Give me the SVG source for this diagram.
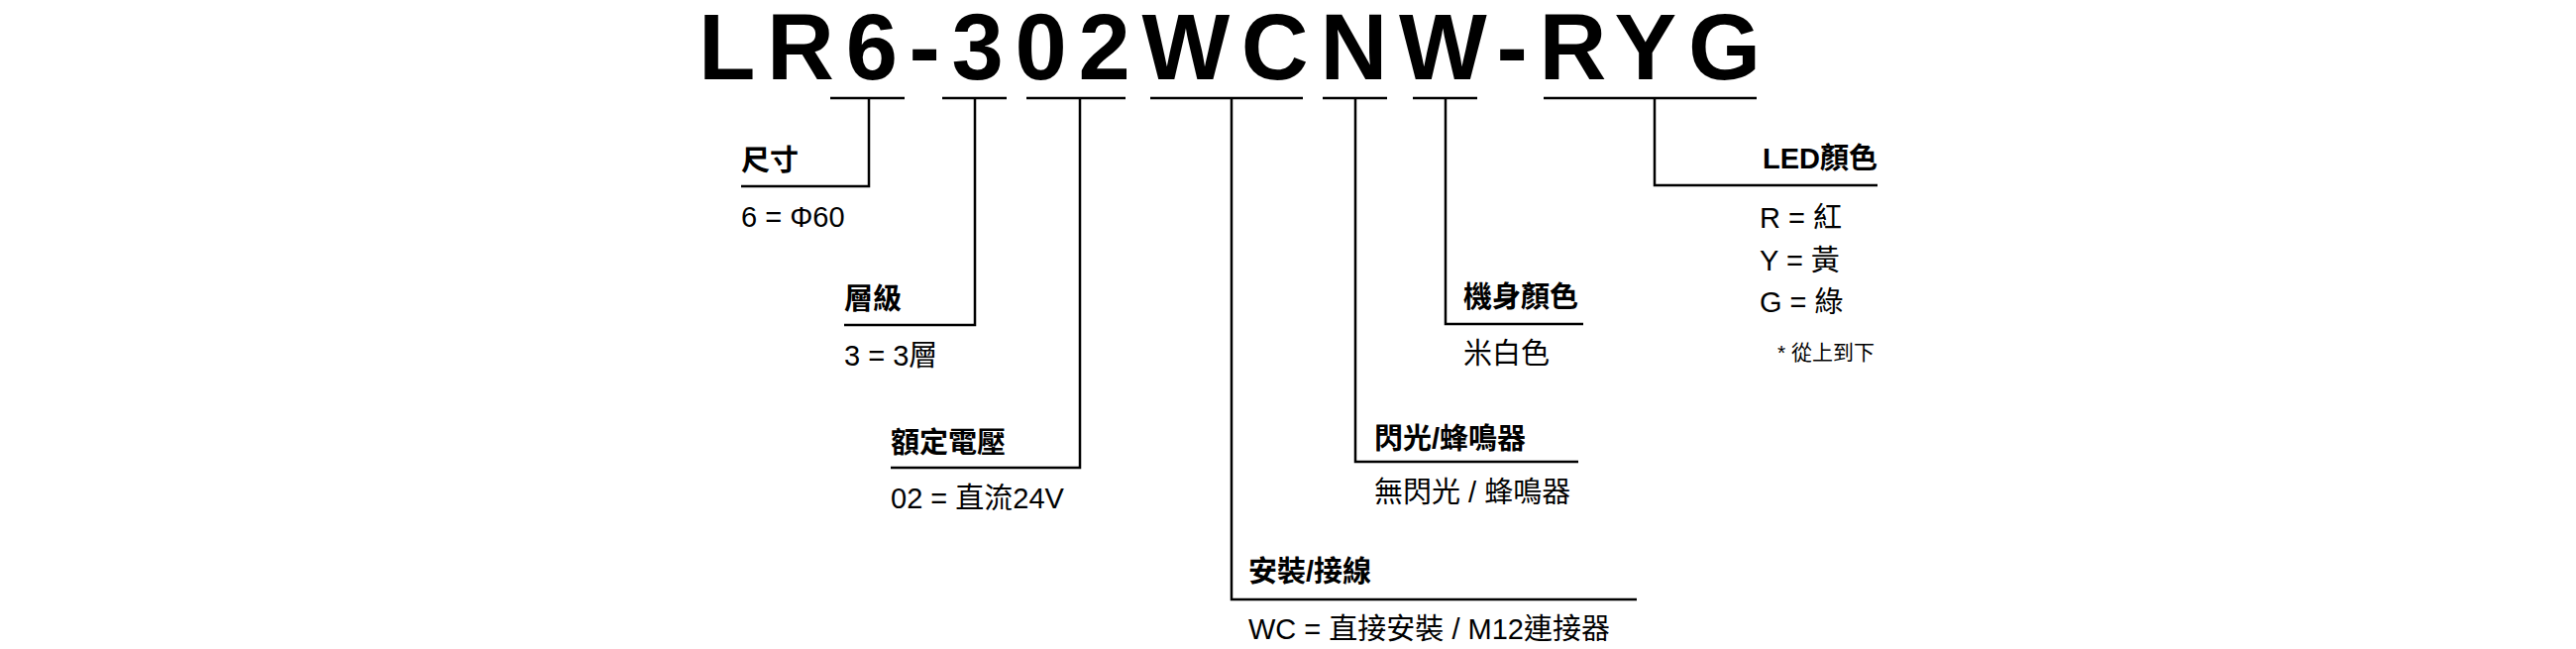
<svg xmlns="http://www.w3.org/2000/svg" width="2600" height="655" viewBox="0 0 2600 655">
<style>
.t{font-family:"Liberation Sans","Noto Sans CJK TC",sans-serif;fill:#000}
.h{font-size:29px;font-weight:bold}
.v{font-size:29px}
.s{font-size:21px}
.ln{stroke:#000;stroke-width:2.5;fill:none}
</style>
<rect width="2600" height="655" fill="#fff"/>
<g id="title"><text class="t" x="705" y="80" font-size="94" font-weight="bold" textLength="1072" lengthAdjust="spacing">LR6-302WCNW-RYG</text></g>
<g id="connectors" class="ln">
<path d="M838 99H913M877 99V188H748"/>
<path d="M951 99H1016M984 99V328H852"/>
<path d="M1036 99H1136M1090 99V472H899"/>
<path d="M1161 99H1315M1243 99V605H1652"/>
<path d="M1335 99H1400M1368 99V466H1593"/>
<path d="M1426 99H1491M1459 99V327H1598"/>
<path d="M1558 99H1773M1670 99V187H1895"/>
</g>
<g id="size"><text class="t h" x="748" y="172">尺寸</text><text class="t v" x="748" y="229">6 = Φ60</text></g>
<g id="tier"><text class="t h" x="852" y="312">層級</text><text class="t v" x="852" y="369">3 = 3層</text></g>
<g id="voltage"><text class="t h" x="899" y="457">額定電壓</text><text class="t v" x="899" y="513">02 = 直流24V</text></g>
<g id="mount"><text class="t h" x="1260" y="587">安裝/接線</text><text class="t v" x="1260" y="645">WC = 直接安裝 / M12連接器</text></g>
<g id="buzzer"><text class="t h" x="1387" y="453">閃光/蜂鳴器</text><text class="t v" x="1387" y="507">無閃光 / 蜂鳴器</text></g>
<g id="body"><text class="t h" x="1477" y="310">機身顏色</text><text class="t v" x="1477" y="367">米白色</text></g>
<g id="led"><text class="t h" x="1895" y="170" text-anchor="end">LED顏色</text>
<text class="t v" x="1776" y="230">R = 紅</text>
<text class="t v" x="1776" y="273">Y = 黃</text>
<text class="t v" x="1776" y="315">G = 綠</text>
<text class="t s" x="1794" y="363">* 從上到下</text></g>
</svg>
